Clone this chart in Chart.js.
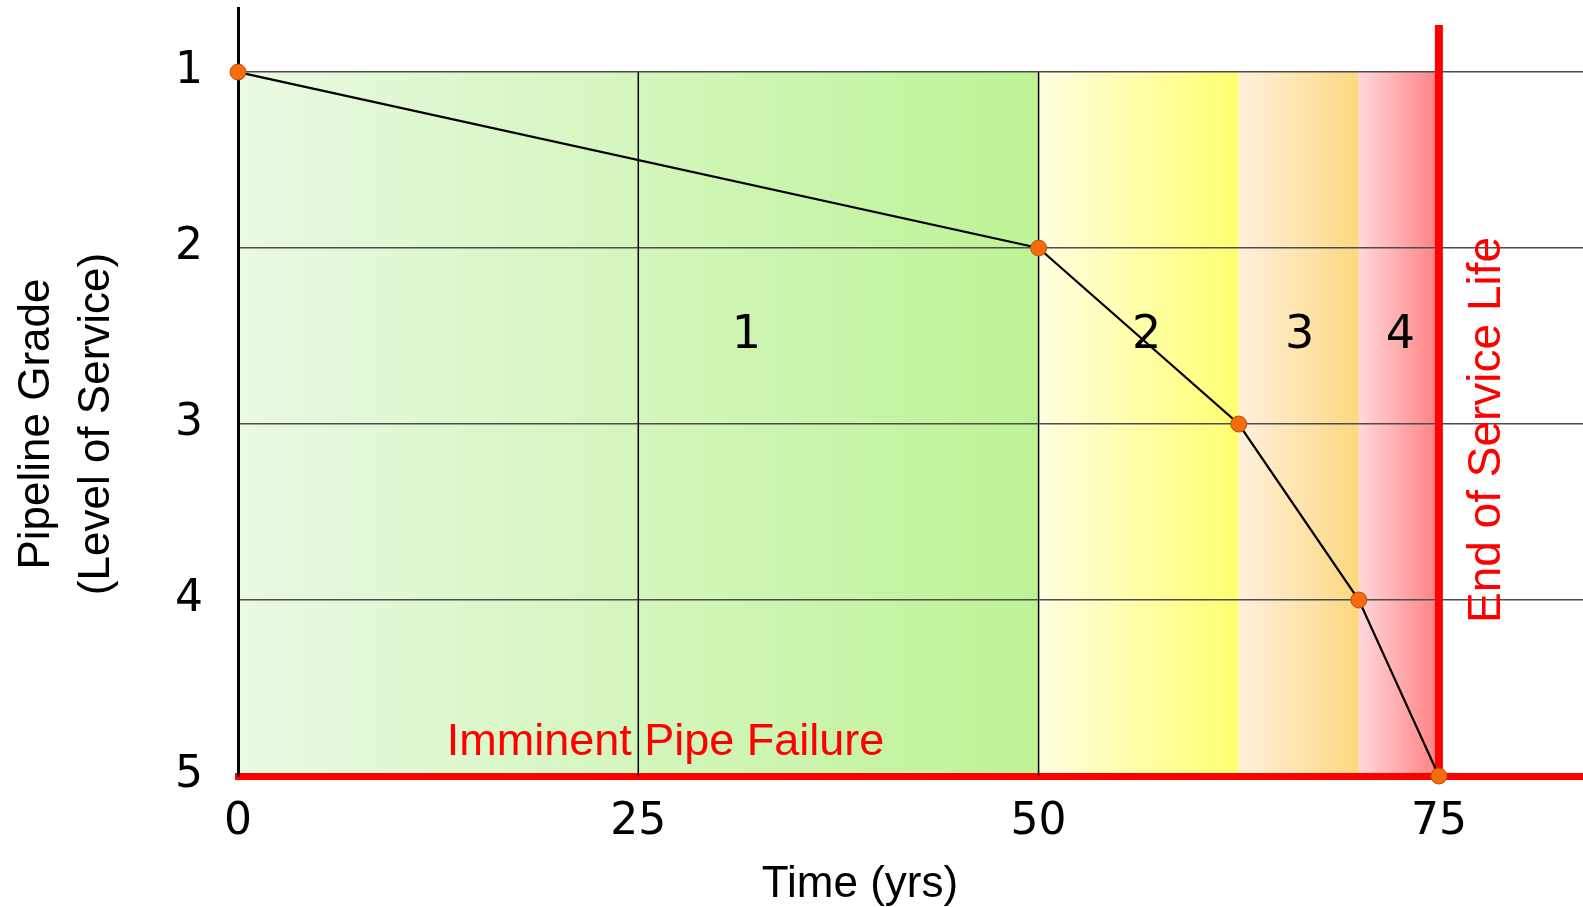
<!DOCTYPE html>
<html>
<head>
<meta charset="utf-8">
<script src="https://cdn.jsdelivr.net/npm/chart.js@4"></script>
<style>
  html, body { margin: 0; background: #fff; overflow: hidden; }
  #wrap { width: 1583px; height: 907px; }
</style>
</head>
<body>
<div id="wrap"><canvas id="chart"></canvas></div>
<script>
// pipe condition over time
const years = [0, 50, 62.5, 70, 75];
const grades = [1, 2, 3, 4, 5];
const xTicks = [0, 25, 50, 75];
const yTicks = [1, 2, 3, 4, 5];
const timeGridYears = [25, 50];
const zoneStart = [0, 50, 62.5, 70];
const zoneEnd = [50, 62.5, 70, 75];
const zoneNames = ["1", "2", "3", "4"];
const endOfLife = 75;
const failureGrade = 5;

const zoneColors = [
  ["#eaf9e3", "#bdf396"],
  ["#fffee2", "#ffff70"],
  ["#fff0dc", "#fdd880"],
  ["#ffd8dc", "#ff8080"],
];
const sans = "'Liberation Sans', Arial, sans-serif";
const tickFont = "'DejaVu Sans', Verdana, sans-serif";

// where the notes sit (in axis units)
const notes = {
  zoneLabelX: [31.75, 56.75, 66.3, 72.6],
  zoneLabelY: 2.5,
};

const zonePlugin = {
  id: "zones",
  beforeDraw(chart) {
    const { ctx, scales: { x, y } } = chart;
    const top = y.getPixelForValue(yTicks[0]);
    const bottom = y.getPixelForValue(failureGrade);
    ctx.save();
    zoneStart.forEach((s, i) => {
      const l = x.getPixelForValue(s);
      const r = x.getPixelForValue(zoneEnd[i]);
      const g = ctx.createLinearGradient(l, 0, r, 0);
      g.addColorStop(0, zoneColors[i][0]);
      g.addColorStop(1, zoneColors[i][1]);
      ctx.fillStyle = g;
      ctx.fillRect(l, top, r - l, bottom - top);
    });
    ctx.restore();
  },
  afterDatasetsDraw(chart) {
    const { ctx, scales: { x, y } } = chart;
    ctx.save();
    ctx.textAlign = "center";

    // zone numbers
    ctx.fillStyle = "#000";
    ctx.font = "46px " + tickFont;
    ctx.textBaseline = "middle";
    zoneNames.forEach((n, i) => {
      ctx.fillText(n, x.getPixelForValue(notes.zoneLabelX[i]), y.getPixelForValue(notes.zoneLabelY));
    });

    ctx.textBaseline = "alphabetic";
    ctx.fillStyle = "#ff0000";
    ctx.font = "45px " + sans;
    ctx.fillText("Imminent Pipe Failure", x.getPixelForValue(26.7), y.getPixelForValue(failureGrade) - 21);

    // end of service life, vertical
    ctx.save();
    ctx.translate(x.getPixelForValue(endOfLife) + 61, 430);
    ctx.rotate(-Math.PI / 2);
    ctx.font = "46px " + sans;
    ctx.fillText("End of Service Life", 0, 0);
    ctx.restore();

    // axis titles
    ctx.fillStyle = "#000";
    ctx.font = "44px " + sans;
    ctx.fillText("Time (yrs)", 860, 897);
    ctx.save();
    ctx.translate(49, 424);
    ctx.rotate(-Math.PI / 2);
    ctx.fillText("Pipeline Grade", 0, 0);
    ctx.fillText("(Level of Service)", 0, 60);
    ctx.restore();

    ctx.restore();
  },
};

const gridSets = timeGridYears.map((t) => ({
  data: [{ x: t, y: yTicks[0] }, { x: t, y: failureGrade }],
  borderColor: "#000",
  borderWidth: 1.5,
  pointRadius: 0,
  order: 3,
}));

new Chart(document.getElementById("chart"), {
  type: "line",
  data: {
    datasets: [
      {
        data: years.map((t, i) => ({ x: t, y: grades[i] })),
        borderColor: "#000",
        borderWidth: 2.2,
        pointRadius: 8,
        pointBackgroundColor: "#f66b0e",
        pointBorderColor: "#b95000",
        pointBorderWidth: 1,
        clip: false,
        order: 0,
      },
      {
        data: [{ x: endOfLife, y: 0.733 }, { x: endOfLife, y: failureGrade }],
        borderColor: "#ff0000",
        borderWidth: 8,
        pointRadius: 0,
        clip: false,
        order: 1,
      },
      ...gridSets,
    ],
  },
  options: {
    responsive: true,
    maintainAspectRatio: false,
    animation: false,
    layout: { autoPadding: false, padding: { top: 8, right: 0, left: 0, bottom: 0 } },
    plugins: { legend: { display: false }, tooltip: { enabled: false } },
    scales: {
      x: {
        type: "linear",
        min: 0,
        max: 84,
        afterBuildTicks: (s) => { s.ticks = xTicks.map((v) => ({ value: v })); },
        afterFit: (s) => { s.height = 131; s.paddingLeft = 0; s.paddingRight = 0; },
        grid: { display: false, drawTicks: false },
        border: { color: "#ff0000", width: 7 },
        ticks: { color: "#000", font: { family: tickFont, size: 44 }, padding: 20, maxRotation: 0 },
      },
      y: {
        type: "linear",
        reverse: true,
        min: 0.636,
        max: 5,
        afterBuildTicks: (s) => { s.ticks = yTicks.map((v) => ({ value: v })); },
        afterFit: (s) => { s.width = 238; s.paddingTop = 0; s.paddingBottom = 0; },
        grid: {
          drawTicks: false,
          color: (c) => (c.tick && c.tick.value === failureGrade ? "rgba(0,0,0,0)" : "#4d4d4d"),
          lineWidth: 1.5,
        },
        border: { color: "#000", width: 3 },
        ticks: { color: "#000", font: { family: tickFont, size: 44 }, padding: 35 },
      },
    },
  },
  plugins: [zonePlugin],
});
</script>
</body>
</html>
